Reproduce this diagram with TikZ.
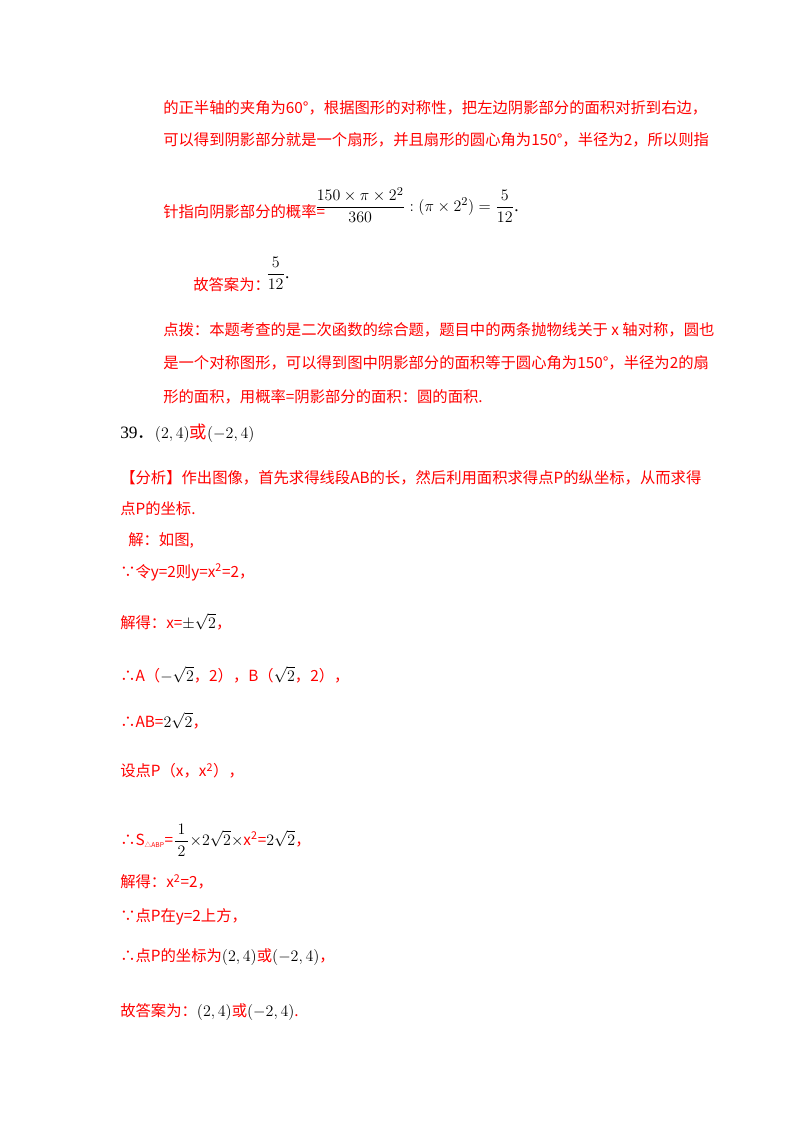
\documentclass[tikz,border=0pt]{standalone}
\usepackage{amsmath}
\usepackage{fontspec}
\setmainfont{Liberation Serif}
\newfontfamily\cjk{Noto Sans CJK SC}
\begin{document}
\begin{tikzpicture}[x=0.75pt,y=-0.75pt,
  t/.style={anchor=west,inner sep=0pt,text=red,font=\cjk\fontsize{11.5}{14}\selectfont},
  m/.style={anchor=west,inner sep=0pt,text=black,font=\fontsize{13}{15}\selectfont}]
\useasboundingbox[fill=white] (0,0) rectangle (800,1132);
\node[t] (l1) at (163,108) {的正半轴的夹角为60°，根据图形的对称性，把左边阴影部分的面积对折到右边，};
\node[t] (l2) at (163,140) {可以得到阴影部分就是一个扇形，并且扇形的圆心角为150°，半径为2，所以则指};
\node[t] (l3) at (163,212) {针指向阴影部分的概率=};
\node[m] (f1) at (315,205) {$\dfrac{150\times\pi\times2^{2}}{360}:(\pi\times2^{2})=\dfrac{5}{12}$.};
\node[t] (l4) at (193,285) {故答案为：};
\node[m] (f2) at (266,273) {$\dfrac{5}{12}$.};
\node[t] (l5) at (163,330) {点拨：本题考查的是二次函数的综合题，题目中的两条抛物线关于 \textit{x} 轴对称，圆也};
\node[t] (l6) at (163,363) {是一个对称图形，可以得到图中阴影部分的面积等于圆心角为150°，半径为2的扇};
\node[t] (l7) at (163,397) {形的面积，用概率=阴影部分的面积：圆的面积.};
\node[m] (n39) at (120,433) {39{\cjk ．}$\left(2,4\right)$\textcolor{red}{\cjk 或}$\left(-2,4\right)$};
\node[t] (l8) at (120,478) {【分析】作出图像，首先求得线段AB的长，然后利用面积求得点P的纵坐标，从而求得};
\node[t] (l9) at (120,509) {点P的坐标.};
\node[t] (l10) at (128,541) {解：如图,};
\node[t] (l11) at (120,572) {∵令y=2则y=x\textsuperscript{2}=2，};
\node[t] (l12) at (120,622) {解得：x=\textcolor{black}{\large$\pm\sqrt{2}$}，};
\node[t] (l13) at (120,675) {∴A（\textcolor{black}{\large$-\sqrt{2}$}，2），B（\textcolor{black}{\large$\sqrt{2}$}，2），};
\node[t] (l14) at (120,721) {∴AB=\textcolor{black}{\large$2\sqrt{2}$}，};
\node[t] (l15) at (120,771) {设点P（x，x\textsuperscript{2}），};
\node[t] (l16) at (120,840) {∴S\textsubscript{\tiny △ABP}=\textcolor{black}{\large$\dfrac{1}{\,2\,}$}\textcolor{black}{$\times2\sqrt{2}\times$}x\textsuperscript{2}=\textcolor{black}{\large$2\sqrt{2}$}，};
\node[t] (l17) at (120,882) {解得：x\textsuperscript{2}=2，};
\node[t] (l18) at (120,917) {∵点P在y=2上方，};
\node[t] (l19) at (120,957) {∴点P的坐标为\textcolor{black}{\large$\left(2,4\right)$}或\textcolor{black}{\large$\left(-2,4\right)$}，};
\node[t] (l20) at (120,1012) {故答案为：\textcolor{black}{\large$\left(2,4\right)$}或\textcolor{black}{\large$\left(-2,4\right)$}.};
\end{tikzpicture}
\end{document}
